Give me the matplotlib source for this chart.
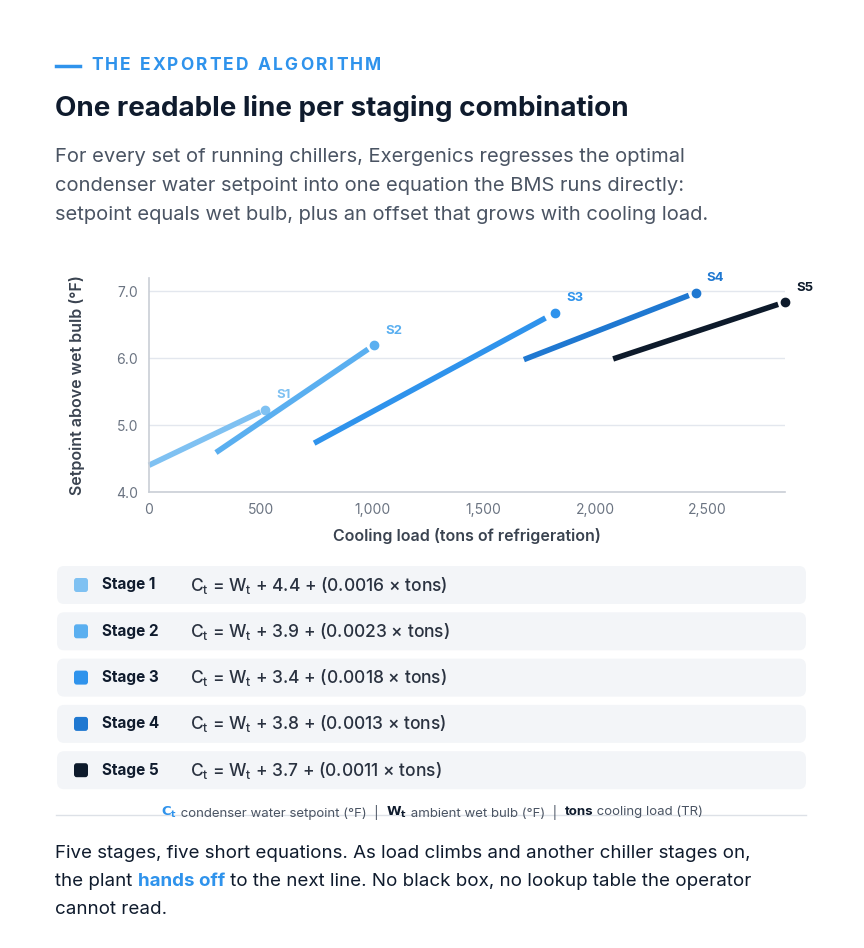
import matplotlib
matplotlib.use("Agg")
import matplotlib.pyplot as plt
from matplotlib.patches import FancyBboxPatch

plt.rcParams['font.family'] = ['Inter', 'DejaVu Sans']

stages = ["Stage 1", "Stage 2", "Stage 3", "Stage 4", "Stage 5"]
short = ["S1", "S2", "S3", "S4", "S5"]
intercepts = ["4.4", "3.9", "3.4", "3.8", "3.7"]
slopes = ["0.0016", "0.0023", "0.0018", "0.0013", "0.0011"]
x_start = [0, 300, 740, 1680, 2080]
y_start = [4.40, 4.59, 4.73, 5.98, 5.99]
x_end = [520, 1010, 1820, 2450, 2850]
y_end = [5.23, 6.20, 6.68, 6.98, 6.84]
colors = ["#7fc1f2", "#5aaff0", "#2f93ec", "#1f78d1", "#0d1a2b"]
xticks = [0, 500, 1000, 1500, 2000, 2500]
yticks = [4.0, 5.0, 6.0, 7.0]

fig = plt.figure(figsize=(8.64, 9.48), dpi=100)
W, H = 864, 948
def fx(p): return p / W
def fy(p): return 1 - p / H

dark = "#0f1b2d"
grey = "#4a5463"
fig.add_artist(plt.Line2D([fx(56), fx(80)], [fy(66), fy(66)], color="#2f93ec", lw=2.5))
# letter-spaced heading
heading = "THE EXPORTED ALGORITHM"
fig.canvas.draw()
r = fig.canvas.get_renderer()
xpos = 91.0
for ch in heading:
    t = fig.text(fx(xpos), fy(66), ch, color="#2f93ec", fontsize=12.5,
                 fontweight="bold", va="center", ha="left")
    w = t.get_window_extent(r).width if ch != " " else 4.5
    xpos += w + 2.2
fig.text(fx(55), fy(108), "One readable line per staging combination", color=dark,
         fontsize=20, fontweight="bold", va="center", ha="left")
for i, line in enumerate([
        "For every set of running chillers, Exergenics regresses the optimal",
        "condenser water setpoint into one equation the BMS runs directly:",
        "setpoint equals wet bulb, plus an offset that grows with cooling load."]):
    fig.text(fx(55), fy(157 + i * 29), line, color=grey, fontsize=14.5, va="center", ha="left")

ax = fig.add_axes([fx(149), fy(492), fx(785) - fx(149), fy(278) - fy(492)])
ax.set_xlim(0, 2850)
ax.set_ylim(4.0, 7.2)
ax.set_xticks(xticks)
ax.set_xticklabels([f"{v:,}" for v in xticks])
ax.set_yticks(yticks)
ax.set_yticklabels([f"{v:.1f}" for v in yticks])
ax.tick_params(length=0, labelsize=10, colors="#6b7482", pad=8)
ax.grid(axis="y", color="#e3e7ee", lw=1)
ax.set_axisbelow(True)
for s in ["top", "right"]:
    ax.spines[s].set_visible(False)
for s in ["left", "bottom"]:
    ax.spines[s].set_color("#c9ced6")
    ax.spines[s].set_linewidth(1.2)
ax.set_xlabel("Cooling load (tons of refrigeration)", fontsize=11.5, color="#3a4350",
              fontweight="semibold", labelpad=8)
ax.set_ylabel("Setpoint above wet bulb (°F)", fontsize=11.5, color="#3a4350",
              fontweight="semibold", labelpad=22)
for i in range(5):
    dx = (x_end[i] - x_start[i]) * 0.04
    ax.plot([x_start[i], x_end[i] - dx],
            [y_start[i], y_end[i] - (y_end[i] - y_start[i]) * 0.04],
            color=colors[i], lw=4, solid_capstyle="butt", clip_on=False)
    ax.plot([x_end[i]], [y_end[i]], "o", color=colors[i], ms=6, clip_on=False)
    ax.annotate(short[i], (x_end[i], y_end[i]), xytext=(8, 6), textcoords="offset points",
                fontsize=9.5, fontweight="bold", color=colors[i], ha="left", va="bottom",
                annotation_clip=False)

for i in range(5):
    yc = 585 + i * 46.3
    fig.add_artist(FancyBboxPatch((fx(57), fy(yc + 19)), fx(806) - fx(57), (38) / H,
                                  boxstyle="round,pad=0,rounding_size=0.008",
                                  fc="#f3f5f8", ec="none", transform=fig.transFigure))
    fig.add_artist(FancyBboxPatch((fx(74), fy(yc + 7)), 14 / W, 14 / H,
                                  boxstyle="round,pad=0,rounding_size=0.003",
                                  fc=colors[i], ec="none", transform=fig.transFigure))
    fig.text(fx(102), fy(yc), stages[i], fontsize=11, fontweight="bold", color=dark,
             va="center", ha="left")
    fig.text(fx(190), fy(yc), rf"C$_\mathregular{{t}}$ = W$_\mathregular{{t}}$ + {intercepts[i]} + ({slopes[i]} × tons)",
             fontsize=12.5, color="#2a3240", fontweight="medium", va="center", ha="left")

fig.add_artist(plt.Line2D([fx(56), fx(806)], [fy(815), fy(815)], color="#dde1e7", lw=1))
parts = [(r"$\mathbf{C_t}$", "#2f93ec"),
         (" condenser water setpoint (°F)  |  ", "#4a5463"),
         (r"$\mathbf{W_t}$", dark),
         (" ambient wet bulb (°F)  |  ", "#4a5463"),
         ("tons", dark),
         (" cooling load (TR)", "#4a5463")]
fig.canvas.draw()
r = fig.canvas.get_renderer()
xs = []
widths = []
for txt, c in parts:
    t = fig.text(0, 0, txt, fontsize=9.5, fontweight="bold" if txt == "tons" else "normal")
    widths.append(t.get_window_extent(r).width)
    t.remove()
total = sum(widths)
x0 = 432 - total / 2
fig.add_artist(FancyBboxPatch((fx(x0 - 4), fy(822)), (total + 8) / W, 14 / H,
                              boxstyle="square,pad=0", fc="white", ec="none",
                              transform=fig.transFigure))
for (txt, c), w in zip(parts, widths):
    fig.text(fx(x0), fy(812), txt, fontsize=9.5, color=c, ha="left", va="center",
             fontweight="bold" if txt == "tons" else "normal")
    x0 += w

fig.text(fx(55), fy(853), "Five stages, five short equations. As load climbs and another chiller stages on,",
         fontsize=13.5, color=dark, va="center", ha="left")
t = fig.text(fx(55), fy(881), "the plant ", fontsize=13.5, color=dark, va="center", ha="left")
fig.canvas.draw()
r = fig.canvas.get_renderer()
bb = t.get_window_extent(r)
t2 = fig.text(bb.x1 / W, fy(881), "hands off", fontsize=13.5, color="#2f93ec",
              fontweight="bold", va="center", ha="left")
bb2 = t2.get_window_extent(r)
fig.text(bb2.x1 / W, fy(881), " to the next line. No black box, no lookup table the operator",
         fontsize=13.5, color=dark, va="center", ha="left")
fig.text(fx(55), fy(910), "cannot read.", fontsize=13.5, color=dark, va="center", ha="left")

fig.savefig("out.png", dpi=100, facecolor="white")
